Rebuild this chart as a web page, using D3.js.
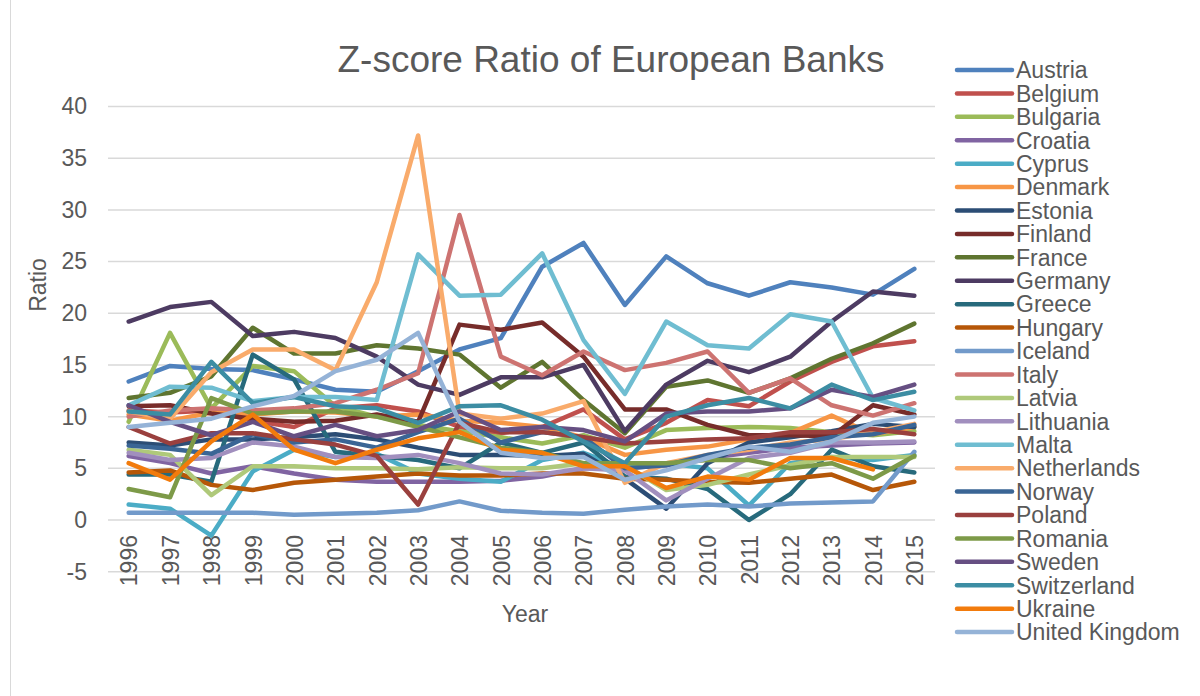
<!DOCTYPE html>
<html>
<head>
<meta charset="utf-8">
<script src="https://cdn.jsdelivr.net/npm/d3@7"></script>
<style>
  html, body { margin: 0; padding: 0; background: #ffffff; }
  svg { display: block; }
  text { font-family: "Liberation Sans", Arial, sans-serif; fill: #595959; }
</style>
</head>
<body>
<svg id="chart" width="1200" height="696"></svg>
<script>
// ---- data ----
const years = ["1996","1997","1998","1999","2000","2001","2002","2003","2004","2005","2006","2007","2008","2009","2010","2011","2012","2013","2014","2015"];
const yTicks = [-5, 0, 5, 10, 15, 20, 25, 30, 35, 40];

const austria     = [13.4, 14.9, 14.6, 14.5, 13.6, 12.6, 12.4, 14.4, 16.5, 17.6, 24.5, 26.8, 20.8, 25.5, 22.9, 21.7, 23.0, 22.5, 21.8, 24.3];
const belgium     = [10.6, 10.4, 10.6, 9.6, 9.0, 10.8, 11.1, 10.5, 9.0, 8.4, 9.0, 10.7, 7.8, 9.4, 11.6, 11.0, 13.4, 15.3, 16.8, 17.3];
const bulgaria    = [9.5, 18.1, 10.8, 14.9, 14.4, 11.0, 10.0, 9.2, 8.6, 8.0, 7.4, 8.2, 7.0, 8.7, 8.9, 9.0, 8.9, 8.5, 8.2, 8.6];
const croatia     = [6.2, 5.5, 4.5, 5.2, 4.5, 3.9, 3.7, 3.7, 3.7, 3.8, 4.2, 5.0, 5.0, 5.3, 6.0, 6.5, 7.0, 7.2, 7.4, 7.5];
const cyprus      = [1.5, 1.1, -1.5, 4.7, 6.8, 6.1, 6.4, 4.5, 4.0, 3.7, 5.8, 6.5, 5.0, 5.5, 5.0, 1.4, 5.5, 6.1, 5.8, 6.3];
const denmark     = [10.2, 9.6, 10.4, 10.2, 10.5, 10.4, 10.0, 10.2, 9.6, 9.4, 9.0, 8.0, 6.3, 6.8, 7.1, 7.8, 8.4, 10.1, 8.3, 9.0];
const estonia     = [7.5, 7.2, 7.8, 7.8, 8.0, 8.3, 7.8, 7.0, 6.3, 6.3, 6.2, 6.4, 4.0, 1.1, 5.5, 7.5, 8.0, 8.6, 9.3, 9.0];
const finland     = [11.0, 11.1, 10.3, 9.8, 9.5, 9.6, 10.2, 9.5, 18.9, 18.4, 19.1, 15.8, 10.7, 10.7, 9.2, 8.2, 8.2, 8.1, 11.1, 10.2];
const france      = [11.8, 12.3, 13.9, 18.6, 16.1, 16.1, 16.9, 16.6, 16.0, 12.8, 15.3, 11.6, 8.4, 12.9, 13.5, 12.3, 13.7, 15.6, 17.1, 19.0];
const germany     = [19.2, 20.6, 21.1, 17.8, 18.2, 17.6, 15.8, 13.1, 12.1, 13.8, 13.8, 15.0, 8.6, 13.1, 15.4, 14.3, 15.8, 19.2, 22.1, 21.7];
const greece      = [4.4, 4.4, 3.7, 16.0, 13.6, 6.6, 6.2, 5.8, 5.0, 7.5, 6.5, 7.5, 4.2, 4.0, 3.0, 0.0, 2.5, 6.8, 5.2, 4.6];
const hungary     = [4.6, 4.8, 3.4, 2.9, 3.6, 3.9, 4.2, 4.5, 4.3, 4.3, 4.5, 4.5, 4.0, 3.9, 3.7, 3.6, 4.0, 4.4, 2.9, 3.7];
const iceland     = [0.7, 0.7, 0.7, 0.7, 0.5, 0.6, 0.7, 0.95, 1.8, 0.9, 0.7, 0.6, 1.0, 1.3, 1.5, 1.3, 1.6, 1.7, 1.8, 6.6];
const italy       = [10.0, 10.6, 10.8, 10.6, 10.8, 11.3, 12.6, 14.2, 29.5, 15.8, 14.0, 16.3, 14.5, 15.2, 16.3, 12.3, 13.7, 11.1, 10.1, 11.3];
const latvia      = [6.8, 6.3, 2.4, 5.2, 5.2, 5.0, 5.0, 4.9, 5.1, 5.0, 5.0, 5.5, 5.3, 2.9, 3.4, 4.4, 5.3, 6.1, 6.1, 6.1];
const lithuania   = [6.5, 5.8, 6.0, 7.5, 7.1, 6.1, 6.0, 6.3, 5.5, 4.5, 4.4, 5.0, 4.8, 1.9, 4.0, 6.0, 6.5, 7.5, 7.5, 7.6];
const malta       = [11.1, 12.9, 12.8, 11.5, 11.9, 11.9, 11.6, 25.7, 21.7, 21.8, 25.8, 17.4, 12.2, 19.2, 16.9, 16.6, 19.9, 19.2, 11.8, 10.6];
const netherlands = [10.5, 9.8, 14.3, 16.5, 16.5, 14.5, 23.0, 37.2, 10.3, 9.8, 10.3, 11.5, 3.6, 5.5, 6.3, 6.8, 7.5, 7.8, 8.5, 9.3];
const norway      = [7.2, 6.9, 6.4, 8.3, 7.5, 7.8, 7.0, 8.5, 9.8, 7.5, 8.5, 8.0, 5.0, 5.3, 6.3, 7.0, 7.3, 8.0, 8.3, 9.2];
const poland      = [9.0, 7.4, 8.4, 8.4, 7.8, 7.3, 6.2, 1.5, 9.4, 8.5, 8.5, 8.0, 7.4, 7.6, 7.8, 7.9, 8.5, 8.5, 8.8, 8.3];
const romania     = [3.0, 2.2, 11.8, 10.3, 10.5, 10.5, 10.0, 9.0, 8.0, 7.0, 6.5, 5.5, 5.5, 5.5, 5.8, 5.8, 5.0, 5.5, 4.0, 6.2];
const sweden      = [11.1, 9.5, 8.2, 9.5, 8.1, 9.2, 8.1, 8.7, 10.5, 8.7, 9.0, 8.7, 7.6, 10.3, 10.5, 10.5, 10.8, 12.6, 11.9, 13.1];
const switzerland = [10.5, 10.2, 15.3, 11.3, 11.9, 11.0, 10.8, 9.4, 11.0, 11.1, 9.7, 7.6, 5.5, 10.0, 11.1, 11.8, 10.8, 13.1, 11.6, 12.4];
const ukraine     = [5.5, 3.9, 7.6, 10.2, 6.8, 5.5, 6.8, 7.9, 8.5, 6.8, 6.5, 5.2, 5.2, 3.1, 4.2, 3.9, 6.0, 6.0, 4.9, null];
const unitedKingdom = [9.0, 9.4, 9.8, 11.0, 12.0, 14.4, 15.5, 18.1, 9.5, 6.5, 6.0, 6.1, 3.9, 4.8, 6.0, 7.1, 6.6, 7.6, 9.4, 10.0];

const names  = ["Austria","Belgium","Bulgaria","Croatia","Cyprus","Denmark","Estonia","Finland","France","Germany","Greece","Hungary","Iceland","Italy","Latvia","Lithuania","Malta","Netherlands","Norway","Poland","Romania","Sweden","Switzerland","Ukraine","United Kingdom"];
const values = [austria, belgium, bulgaria, croatia, cyprus, denmark, estonia, finland, france, germany, greece, hungary, iceland, italy, latvia, lithuania, malta, netherlands, norway, poland, romania, sweden, switzerland, ukraine, unitedKingdom];
const colors = ["#4F81BD","#C0504D","#9BBB59","#8064A2","#4BACC6","#F79646","#2C4D75","#772C2A","#5F7530","#4D3B62","#276A7C","#B65708","#729ACA","#CD7371","#AFC97A","#A18FBE","#6FBDD1","#F9AB6B","#3A6595","#9A403E","#7D9A48","#664F82","#3C8DA3","#F27B0C","#95B3D7"];

const series = names.map((n, i) => ({ name: n, color: colors[i], values: values[i] }));

// ---- layout ----
const svg = d3.select("#chart");
const plot = { left: 108, right: 935, top: 106.5, bottom: 571.7 };

const x = d3.scalePoint().domain(years).range([plot.left, plot.right]).padding(0.5);
const y = d3.scaleLinear().domain([-5, 40]).range([plot.bottom, plot.top]);

// outer frame (left edge visible)
svg.append("line").attr("x1", 10.5).attr("x2", 10.5).attr("y1", 0).attr("y2", 696)
  .attr("stroke", "#d9d9d9").attr("stroke-width", 1);

// gridlines
svg.append("g").selectAll("line").data(yTicks).join("line")
  .attr("x1", plot.left).attr("x2", plot.right)
  .attr("y1", d => y(d)).attr("y2", d => y(d))
  .attr("stroke", "#d9d9d9").attr("stroke-width", 1.5);

// y tick labels
const yAxis = d3.axisLeft(y).tickValues(yTicks).tickSize(0).tickPadding(0).tickFormat(d => String(d));
const gy = svg.append("g").attr("transform", "translate(87,0)").call(yAxis);
gy.select(".domain").remove();
gy.selectAll("text").attr("font-size", 23).attr("fill", "#595959")
  .attr("font-family", "'Liberation Sans', Arial, sans-serif");

// x tick labels (rotated)
const xAxis = d3.axisBottom(x).tickSize(0).tickPadding(0);
const gx = svg.append("g").attr("transform", `translate(0,${y(0)})`).call(xAxis);
gx.select(".domain").remove();
gx.selectAll("text")
  .attr("font-size", 23).attr("fill", "#595959")
  .attr("font-family", "'Liberation Sans', Arial, sans-serif")
  .attr("text-anchor", "end")
  .attr("transform", "translate(0,15) rotate(-90)")
  .attr("x", 0).attr("y", 0).attr("dy", "0.36em");

// lines
const line = d3.line()
  .defined(d => d.v !== null)
  .x(d => x(d.year))
  .y(d => y(d.v));

svg.append("g").selectAll("path").data(series).join("path")
  .attr("fill", "none")
  .attr("stroke", d => d.color)
  .attr("stroke-width", 4.5)
  .attr("stroke-linejoin", "round")
  .attr("stroke-linecap", "round")
  .attr("d", d => line(d.values.map((v, i) => ({ year: years[i], v }))));

// title
svg.append("text").attr("x", 611).attr("y", 72).attr("text-anchor", "middle")
  .attr("font-size", 37).text("Z-score Ratio of European Banks");

// axis titles
svg.append("text").attr("transform", "translate(46,285) rotate(-90)")
  .attr("text-anchor", "middle").attr("font-size", 23).text("Ratio");
svg.append("text").attr("x", 525).attr("y", 622)
  .attr("text-anchor", "middle").attr("font-size", 23).text("Year");

// legend
const legend = svg.append("g").selectAll("g").data(series).join("g")
  .attr("transform", (d, i) => `translate(957,${70 + i * 23.42})`);
legend.append("line").attr("x1", 0).attr("x2", 55).attr("y1", 0).attr("y2", 0)
  .attr("stroke", d => d.color).attr("stroke-width", 4.5).attr("stroke-linecap", "round");
legend.append("text").attr("x", 59).attr("y", 0).attr("dy", "0.36em")
  .attr("font-size", 23).text(d => d.name);
</script>
</body>
</html>
